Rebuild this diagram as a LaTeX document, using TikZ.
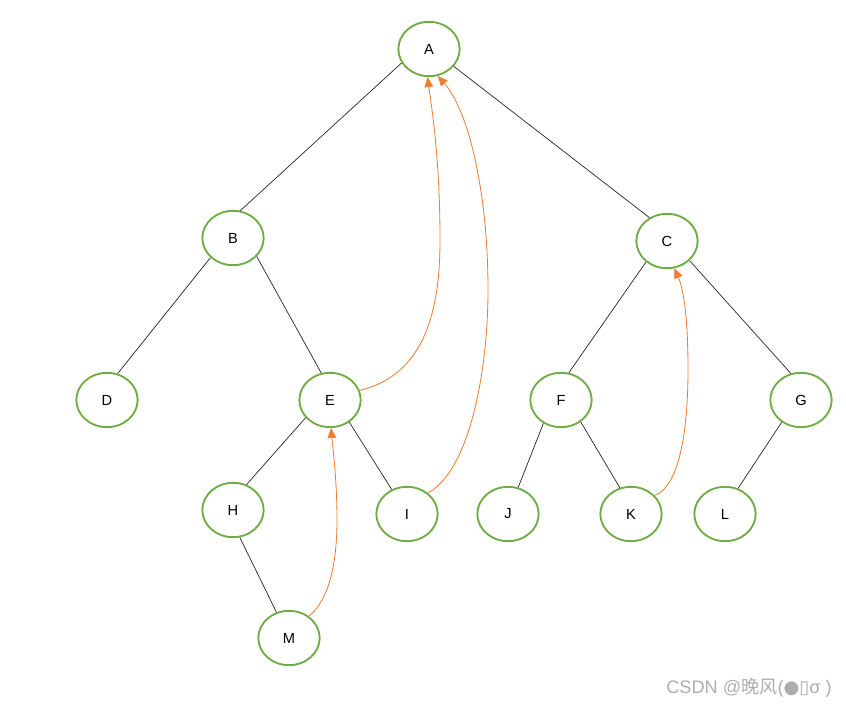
\documentclass[tikz,border=0pt]{standalone}
\usepackage{fontspec}
\setmainfont{Liberation Sans}
\newfontfamily\cjkfont{Noto Sans CJK SC}
\newfontfamily\symfont{DejaVu Sans}
\usepackage{tikz}
\usetikzlibrary{shapes.geometric,arrows.meta}
\definecolor{treegreen}{HTML}{70AD47}
\definecolor{threadorange}{HTML}{ED7D31}
\colorlet{markgray}{black!32}

\tikzset{
  vert/.style={ellipse,draw=treegreen,line width=1.6pt,inner sep=0pt,
    minimum width=1.84cm,minimum height=1.63cm,font=\fontsize{12.5}{14}\selectfont},
  edge/.style={draw=black!85,line width=0.6pt},
  thread/.style={draw=threadorange,line width=0.7pt,
    -{Triangle[length=8.5pt,width=7.5pt]}}
}

\begin{document}
\begin{tikzpicture}[x=0.03cm,y=-0.03cm]

      \useasboundingbox (0,0) rectangle (846,708);

      % tree nodes
      \node[vert] (A) at (429,49) {A};
      \node[vert] (B) at (233,238) {B};
      \node[vert] (C) at (667,241) {C};
      \node[vert] (D) at (107,400) {D};
      \node[vert] (E) at (330,400) {E};
      \node[vert] (F) at (561,400) {F};
      \node[vert] (G) at (801,400) {G};
      \node[vert] (H) at (233,510) {H};
      \node[vert] (I) at (407,514) {I};
      \node[vert] (J) at (508,514) {J};
      \node[vert] (K) at (631,514) {K};
      \node[vert] (L) at (725,514) {L};
      \node[vert] (M) at (289,638) {M};

      % child links
      \draw[edge] (A.207) -- (B.75);
      \draw[edge] (A.-35) -- (C.127);
      \draw[edge] (B.221) -- (D.68);
      \draw[edge] (B.-38) -- (E.108);
      \draw[edge] (C.225) -- (F.74);
      \draw[edge] (C.-41) -- (G.111);
      \draw[edge] (E.216) -- (H.62);
      \draw[edge] (E.-49) -- (I.122);
      \draw[edge] (F.233) -- (J.69);
      \draw[edge] (F.-48) -- (K.113);
      \draw[edge] (G.229) -- (L.63);
      \draw[edge] (H.-76) -- (M.116);

      % threads
      \draw[thread] (E.18) .. controls (425,375) and (440,310) .. (440,240)
                           .. controls (440,160) and (432,110) .. (A.-93);
      \draw[thread] (I.45) .. controls (470,470) and (488,370) .. (488,290)
                           .. controls (488,190) and (468,110) .. (A.-72);
      \draw[thread] (K.38) .. controls (682,485) and (688,420) .. (688,370)
                           .. controls (688,320) and (684,290) .. (C.-75);
      \draw[thread] (M.48) .. controls (330,600) and (337,560) .. (337,520)
                           .. controls (337,480) and (333,450) .. (E.-88);

      \node[anchor=east,text=markgray,font=\fontsize{15.5}{17}\selectfont,inner sep=0pt] (mark) at (832,688)
        {CSDN @{\cjkfont 晚风}({\symfont ●▯}σ )};

    \end{tikzpicture}
\end{document}
